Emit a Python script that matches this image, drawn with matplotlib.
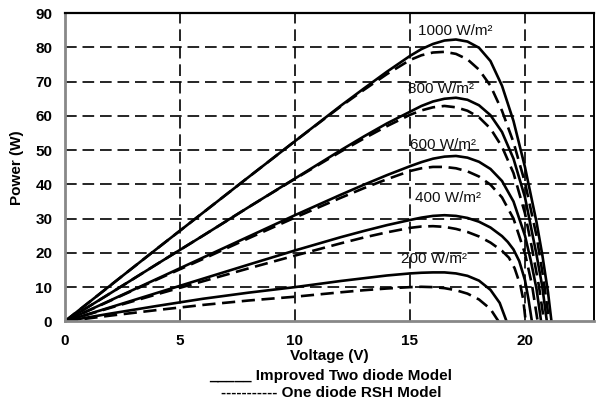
import matplotlib
matplotlib.use("Agg")
import matplotlib.pyplot as plt

plt.rcParams['font.family'] = ['Liberation Sans', 'DejaVu Sans']

# irradiance levels (W/m2)
levels = [1000, 800, 600, 400, 200]

# Improved two diode model: P-V curves
v_two_1000 = [0, 2, 4, 6, 8, 10, 12, 13, 14, 15, 15.5, 16, 16.5, 17, 17.5, 18, 18.5, 19, 19.5, 20, 20.5, 20.75, 21, 21.15]
p_two_1000 = [0, 10.6, 21.2, 31.7, 42.2, 52.6, 63.0, 68.0, 72.9, 77.5, 79.5, 81.0, 82.0, 82.3, 81.7, 79.9, 76.0, 68.8, 58.5, 45.0, 29.0, 19.5, 8.5, 0]

v_two_800 = [0, 2, 4, 6, 8, 10, 12, 13, 14, 15, 15.5, 16, 16.5, 17, 17.5, 18, 18.5, 19, 19.5, 20, 20.5, 20.75, 20.95]
p_two_800 = [0, 8.3, 16.7, 25.0, 33.4, 41.7, 50.0, 54.0, 57.8, 61.2, 62.9, 64.2, 65.0, 65.3, 64.7, 63.1, 60.2, 55.3, 47.5, 36.2, 19.5, 10.2, 0]

v_two_600 = [0, 2, 4, 6, 8, 10, 12, 13, 14, 15, 15.5, 16, 16.5, 17, 17.5, 18, 18.5, 19, 19.5, 20, 20.25, 20.5, 20.7]
p_two_600 = [0, 6.2, 12.4, 18.6, 24.8, 31.0, 37.0, 39.9, 42.7, 45.3, 46.5, 47.5, 48.1, 48.3, 47.8, 46.6, 44.5, 41.0, 35.0, 25.0, 17.8, 9.5, 0]

v_two_400 = [0, 2, 4, 6, 8, 10, 12, 13, 14, 15, 15.5, 16, 16.5, 17, 17.5, 18, 18.5, 19, 19.25, 19.5, 19.75, 20, 20.15, 20.3]
p_two_400 = [0, 4.15, 8.3, 12.45, 16.6, 20.7, 24.6, 26.4, 28.1, 29.6, 30.3, 30.8, 31.0, 30.8, 30.2, 29.1, 27.4, 24.9, 23.2, 21.0, 17.6, 12.0, 6.5, 0]

v_two_200 = [0, 2, 4, 6, 8, 10, 12, 13, 14, 15, 15.5, 16, 16.5, 17, 17.5, 18, 18.5, 18.9, 19.2]
p_two_200 = [0, 2.3, 4.5, 6.6, 8.4, 10.0, 11.8, 12.6, 13.4, 14.0, 14.2, 14.3, 14.3, 14.0, 13.3, 11.9, 9.2, 5.4, 0]

# One diode RSH model: P-V curves
v_one_1000 = [0, 2, 4, 6, 8, 10, 12, 13, 14, 15, 15.5, 16, 16.5, 17, 17.5, 18, 18.5, 19, 19.5, 20, 20.5, 20.8, 21.05]
p_one_1000 = [0, 10.6, 21.2, 31.7, 42.2, 52.6, 62.8, 67.6, 72.2, 76.3, 77.7, 78.5, 78.7, 78.1, 76.5, 73.5, 68.8, 61.5, 52.3, 40.5, 25.0, 12.5, 0]

v_one_800 = [0, 2, 4, 6, 8, 10, 12, 13, 14, 15, 15.5, 16, 16.5, 17, 17.5, 18, 18.5, 19, 19.5, 20, 20.3, 20.6, 20.83]
p_one_800 = [0, 8.3, 16.7, 25.0, 33.4, 41.6, 49.6, 53.4, 57.0, 60.3, 61.6, 62.5, 62.9, 62.5, 61.5, 59.6, 56.3, 51.0, 43.3, 31.5, 21.5, 10.5, 0]

v_one_600 = [0, 2, 4, 6, 8, 10, 12, 13, 14, 15, 15.5, 16, 16.5, 17, 17.5, 18, 18.5, 19, 19.5, 20, 20.3, 20.55]
p_one_600 = [0, 6.1, 12.2, 18.2, 24.3, 30.3, 36.1, 38.9, 41.5, 43.9, 44.7, 45.1, 45.1, 44.7, 43.8, 42.3, 39.9, 36.2, 30.0, 19.8, 10.8, 0]

v_one_400 = [0, 2, 4, 6, 8, 10, 12, 13, 14, 15, 15.5, 16, 16.5, 17, 17.5, 18, 18.5, 19, 19.3, 19.55, 19.8, 19.92, 20.03]
p_one_400 = [0, 4.0, 7.9, 11.7, 15.5, 19.2, 22.8, 24.5, 26.0, 27.3, 27.7, 27.8, 27.6, 27.0, 26.1, 24.8, 23.0, 20.6, 18.6, 15.5, 10.5, 6.5, 0]

v_one_200 = [0, 2, 4, 6, 8, 10, 12, 13, 14, 15, 15.5, 16, 16.5, 17, 17.5, 18, 18.5, 18.85]
p_one_200 = [0, 1.7, 3.3, 4.8, 6.1, 7.2, 8.5, 9.1, 9.6, 10.0, 10.1, 10.0, 9.7, 9.1, 8.1, 6.4, 3.6, 0]

# where the irradiance labels sit (V, W)
label_x = [16.95, 16.35, 16.45, 16.65, 16.05]
label_y = [84.7, 67.8, 51.6, 36.1, 18.3]

two_curves = [(v_two_1000, p_two_1000), (v_two_800, p_two_800), (v_two_600, p_two_600),
              (v_two_400, p_two_400), (v_two_200, p_two_200)]
one_curves = [(v_one_1000, p_one_1000), (v_one_800, p_one_800), (v_one_600, p_one_600),
              (v_one_400, p_one_400), (v_one_200, p_one_200)]

fig = plt.figure(figsize=(5.96, 4.04), dpi=100)
ax = fig.add_axes([0.1087, 0.2045, 0.888, 0.763])

for v, p in two_curves:
    ax.plot(v, p, color='black', lw=1.9, solid_joinstyle='round')
for v, p in one_curves:
    ax.plot(v, p, color='black', lw=1.9, dashes=(5, 2.5))

for lev, x, y in zip(levels, label_x, label_y):
    ax.text(x, y, str(lev) + ' W/m\u00b2', ha='center', va='center', fontsize=11, color='#111111')

ax.set_xlim(0, 23)
ax.set_ylim(0, 90)
ax.set_xticks([0, 5, 10, 15, 20])
ax.set_yticks(range(0, 100, 10))
ax.tick_params(length=0, pad=9, labelsize=11)
for t in ax.get_xticklabels() + ax.get_yticklabels():
    t.set_fontweight('bold')

# dashed grid, inner lines only
for gx in [5, 10, 15, 20]:
    ax.axvline(gx, color='black', lw=1.2, dashes=(7, 3.5), zorder=0)
for gy in range(10, 90, 10):
    ax.axhline(gy, color='black', lw=1.2, dashes=(7, 3.5), zorder=0)

ax.spines['top'].set_linewidth(1.6)
ax.spines['right'].set_linewidth(1.4)
ax.spines['left'].set_color('#888888')
ax.spines['left'].set_linewidth(2)
ax.spines['bottom'].set_color('#888888')
ax.spines['bottom'].set_linewidth(2)

ax.set_ylabel('Power (W)', fontsize=11, fontweight='bold', labelpad=8)
ax.set_xlabel('Voltage (V)', fontsize=11, fontweight='bold', labelpad=1)

fig.text(0.555, 0.070, '_____ Improved Two diode Model', ha='center', va='center',
         fontsize=11, fontweight='bold')
fig.text(0.555, 0.026, '----------- One diode RSH Model', ha='center', va='center',
         fontsize=11, fontweight='bold')

fig.savefig('out.png', dpi=100)
